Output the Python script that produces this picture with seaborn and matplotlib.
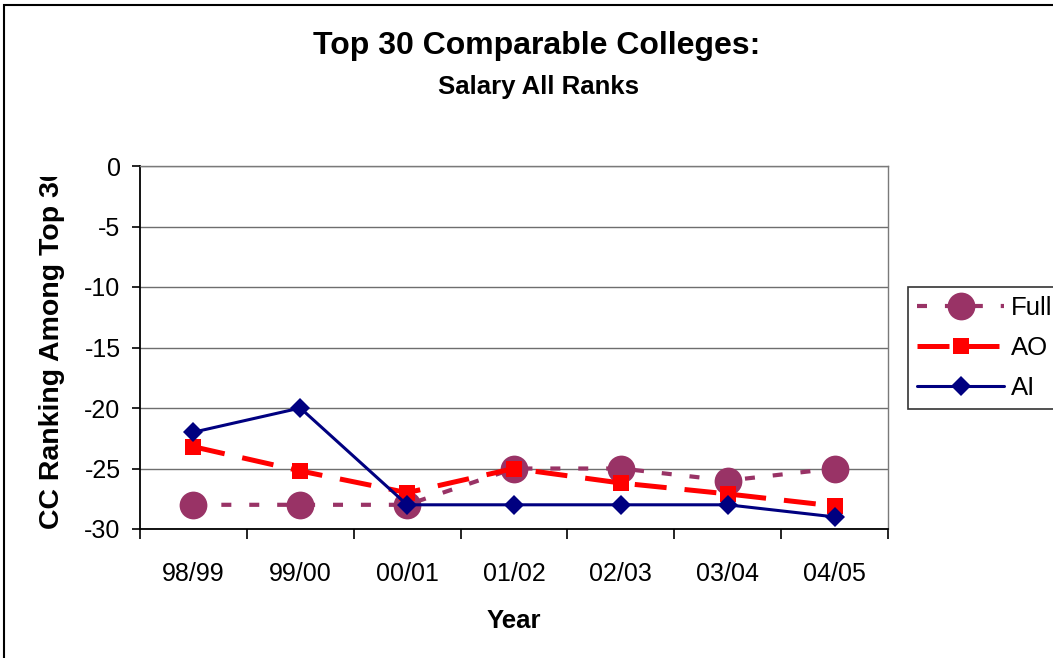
import matplotlib
matplotlib.use("Agg")
import matplotlib.pyplot as plt
import numpy as np
import seaborn as sns
from matplotlib.lines import Line2D
from matplotlib.patches import Rectangle
from matplotlib.transforms import Bbox, TransformedBbox

# Ranking among the top 30 comparable colleges (negative = lower rank)
years = ["98/99", "99/00", "00/01", "01/02", "02/03", "03/04", "04/05"]
full_rank = [-28, -28, -28, -25, -25, -26, -25]
ao_rank = [-23.2, -25.2, -27, -25, -26.2, -27.1, -28.1]
ai_rank = [-22, -20, -28, -28, -28, -28, -29]
series_names = ["Full", "AO", "AI"]
y_ticks = [0, -5, -10, -15, -20, -25, -30]

sns.set_style("white")
plt.rcParams["font.family"] = ["Liberation Sans", "DejaVu Sans"]
plt.rcParams.update({"text.color": "black", "axes.labelcolor": "black",
                     "xtick.color": "black", "ytick.color": "black"})

W, H = 1053, 658
fig = plt.figure(figsize=(W / 100, H / 100), dpi=100)
ax = fig.add_axes([140 / W, 1 - 529 / H, 748 / W, 363 / H])

full_style = dict(color="#993366", lw=3.0, linestyle=(0, (2.4, 4.3)),
                  marker="o", markersize=20, markeredgewidth=0,
                  markerfacecolor="#993366")
ao_style = dict(color="#FF0000", lw=3.6, linestyle=(0, (6.4, 3.6)),
                marker="s", markersize=11, markeredgewidth=0,
                markerfacecolor="#FF0000")
ai_style = dict(color="#000080", lw=2.2, linestyle="-",
                marker="D", markersize=10.5, markeredgewidth=0,
                markerfacecolor="#000080")

sns.lineplot(x=years, y=full_rank, ax=ax, sort=False, **full_style)
sns.lineplot(x=years, y=ao_rank, ax=ax, sort=False, **ao_style)
sns.lineplot(x=years, y=ai_rank, ax=ax, sort=False, **ai_style)

ax.set_xlim(-0.5, len(years) - 0.5)
ax.set_ylim(-30, 0)

# category boundaries carry the tick marks, categories carry the labels
ax.set_xticks(np.arange(-0.5, len(years), 1.0))
ax.set_xticklabels([])
ax.set_xticks(np.arange(len(years)), minor=True)
ax.set_xticklabels(years, minor=True, fontsize=18)
ax.tick_params(axis="x", which="major", direction="out", length=7,
               width=1.2, color="black", bottom=True)
ax.tick_params(axis="x", which="minor", length=0, pad=24)

ax.set_yticks(y_ticks)
ax.set_yticklabels([str(v) for v in y_ticks], fontsize=18)
ax.tick_params(axis="y", direction="out", length=6, width=1.2,
               color="black", left=True, pad=8)

ax.yaxis.grid(True, color="#6e6e6e", lw=1.0)
ax.set_axisbelow(True)
for side in ["left", "bottom"]:
    ax.spines[side].set_color("black")
    ax.spines[side].set_linewidth(1.3)
for side in ["top", "right"]:
    ax.spines[side].set_color("#7a7a7a")
    ax.spines[side].set_linewidth(1.0)

ax.set_xlabel("Year", fontsize=18.5, fontweight="bold", labelpad=16)
ax.set_ylabel("")

# axis title is longer than the plot height, so it is clipped at the top
ylab = fig.text(52 / W, 1 - 529 / H, "CC Ranking Among Top 30", rotation=90,
                ha="center", va="bottom", fontsize=20.5, fontweight="bold")
ylab.set_clip_box(TransformedBbox(Bbox([[0, 0], [1, 1 - 177 / H]]),
                                  fig.transFigure))
ylab.set_clip_on(True)

fig.text(537 / W, 1 - 46 / H, "Top 30 Comparable Colleges:", ha="center",
         va="center", fontsize=23, fontweight="bold")
fig.text(538 / W, 1 - 87 / H, "Salary All Ranks", ha="center",
         va="center", fontsize=18.5, fontweight="bold")

handles = [Line2D([], [], **full_style), Line2D([], [], **ao_style),
           Line2D([], [], **ai_style)]
leg = fig.legend(handles, series_names, loc="upper left",
                 bbox_to_anchor=(908 / W, 1 - 287 / H), fontsize=18.5,
                 frameon=True, fancybox=False, edgecolor="black",
                 handlelength=3.4, handletextpad=0.25, labelspacing=0.62,
                 borderpad=0.35, borderaxespad=0)
leg.get_frame().set_linewidth(1.2)

# chart area border
fig.patches.append(Rectangle((4 / W, -0.1), 1.2, 1.1 - 5 / H,
                             transform=fig.transFigure, fill=False,
                             edgecolor="black", lw=1.5))

fig.savefig("out.png", dpi=100)
